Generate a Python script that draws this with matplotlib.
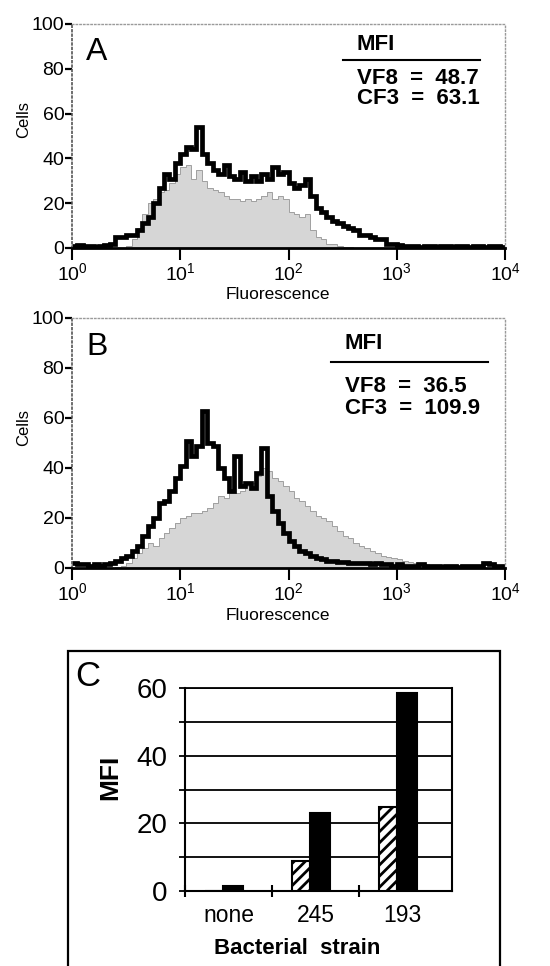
import numpy as np
import matplotlib
matplotlib.use("Agg")
import matplotlib.pyplot as plt
from matplotlib.patches import Rectangle
from matplotlib.lines import Line2D
from matplotlib.ticker import NullLocator, FixedLocator

plt.rcParams['font.family'] = ['Liberation Sans', 'DejaVu Sans']
plt.rcParams['mathtext.fontset'] = 'custom'
plt.rcParams['mathtext.rm'] = 'Liberation Sans'
plt.rcParams['mathtext.it'] = 'Liberation Sans:italic'
plt.rcParams['mathtext.bf'] = 'Liberation Sans:bold'
plt.rcParams['hatch.linewidth'] = 2.0

################################################################################
# Data
################################################################################
# histograms: counts per channel bin, 0.05 decade per bin from 10^0 to 10^4
BIN_DECADES = 0.05
A_VF8 = [1, 1.5, 1, 1, 0.5, 1, 1.5, 2, 5, 5,
         6, 6, 8, 11, 14, 20, 27, 33, 31, 38,
         42, 45, 44, 54, 42, 38, 35, 33, 37, 32,
         31, 34, 30, 32, 30, 33, 31, 36, 33, 34,
         29, 27, 28, 31, 23, 18, 16, 14, 12, 11,
         10, 9, 8, 6, 6, 5, 4, 4, 2, 2,
         1.5, 1, 1, 1, 0.5, 1, 1, 0.5, 1, 1,
         0.5, 1, 1, 0.5, 1, 1, 0.5, 1, 1, 0.5]
A_CF3 = [0, 0, 0, 0, 0, 0, 0, 0, 0, 0,
         1, 4, 9, 15, 20, 22, 25, 26, 29, 33,
         36, 37, 31, 35, 30, 27, 26, 25, 23, 22,
         22, 21, 22, 21, 22, 23, 25, 22, 23, 22,
         16, 15, 14, 15, 8, 5, 4, 2, 2, 1,
         0.5, 0.5, 0, 0, 0, 0, 0, 0, 0, 0,
         0, 0, 0, 0, 0, 0, 0, 0, 0, 0,
         0, 0, 0, 0, 0, 0, 0, 0, 0, 0]
B_VF8 = [2, 1.5, 1.5, 1, 1.5, 1, 1.5, 2, 3, 4,
         5, 7, 9, 13, 17, 20, 26, 27, 31, 36,
         41, 51, 45, 49, 63, 50, 49, 40, 36, 31,
         45, 33, 34, 32, 38, 48, 29, 23, 18, 14,
         11, 9, 7, 6, 5, 4, 3.5, 3, 3, 2.5,
         2.5, 2, 2, 2, 2, 1.5, 2, 1.5, 1.5, 1,
         1.5, 1, 1, 1, 1.5, 1, 1, 1, 0.5, 1,
         1, 0.5, 1, 1, 1, 1, 2, 1.5, 1, 1]
B_CF3 = [0, 0, 0, 0, 0, 0, 0, 0, 0.5, 1,
         2, 4, 6, 8, 10, 9, 12, 14, 16, 18,
         20, 21, 22, 22, 23, 24, 26, 29, 28, 30,
         30, 31, 33, 34, 37, 40, 39, 36, 35, 33,
         31, 28, 27, 25, 23, 21, 20, 19, 17, 15,
         13, 12, 10, 9, 8, 7, 6, 5, 4.5, 4,
         3.5, 3, 2.5, 2, 1.5, 1.5, 1, 1, 0.5, 0.5,
         0.5, 0, 0, 0, 0, 0, 0, 0, 0, 0]
A_MFI = ['VF8  =  48.7', 'CF3  =  63.1']
B_MFI = ['VF8  =  36.5', 'CF3  =  109.9']

# panel C
STRAINS = ['none', '245', '193']
MFI_HATCHED = [0, 8.9, 24.8]
MFI_SOLID = [1.5, 23.2, 58.5]

################################################################################
# Helpers
################################################################################
W, H = 550.0, 966.0
def fx(px):
    return px / W
def fy(py):
    return 1 - py / H

EDGES = 10 ** (np.arange(len(A_VF8) + 1) * BIN_DECADES)

fig = plt.figure(figsize=(5.5, 9.66), dpi=100)

def hist_panel(top, bottom, black, gray, letter, mfi_lines, txt):
    ax = fig.add_axes([fx(72), fy(bottom), fx(505) - fx(72), (bottom - top) / H])
    ax.stairs(gray, EDGES, fill=True, facecolor='#d6d6d6', edgecolor='none')
    ax.stairs(gray, EDGES, color='#a0a0a0', lw=0.7, baseline=None)
    ax.stairs(black, EDGES, color='black', lw=3.4, baseline=None)
    ax.set_xscale('log')
    ax.set_xlim(1, 1e4)
    ax.set_ylim(0, 100)
    ax.set_yticks([0, 20, 40, 60, 80, 100])
    ax.xaxis.set_major_locator(FixedLocator([1, 10, 100, 1000, 10000]))
    ax.xaxis.set_minor_locator(NullLocator())
    ax.tick_params(axis='y', labelsize=14, length=5, width=1.6, pad=0.5)
    ax.tick_params(axis='x', labelsize=14, length=8.5, width=1.5, pad=1.5)
    for s in ['top', 'right']:
        ax.spines[s].set_color('#9a9a9a')
        ax.spines[s].set_linestyle(':')
        ax.spines[s].set_linewidth(1.0)
    ax.spines['left'].set_color('#555555')
    ax.spines['left'].set_linestyle(':')
    ax.spines['left'].set_linewidth(1.2)
    ax.spines['bottom'].set_linewidth(2.0)
    # labels
    fig.text(fx(24), fy(txt['cells']), 'Cells', rotation=90, fontsize=12,
             ha='center', va='center')
    fig.text(fx(278), fy(txt['fluor']), 'Fluorescence', fontsize=12.5,
             ha='center', va='center')
    fig.text(fx(97), fy(txt['letter']), letter, fontsize=23,
             ha='center', va='center')
    fig.text(fx(txt['x']), fy(txt['mfi']), 'MFI', fontsize=16,
             fontweight='bold', ha='left', va='center')
    fig.add_artist(Line2D([fx(txt['x'] - 14), fx(txt['lx'])],
                          [fy(txt['line']), fy(txt['line'])],
                          color='black', lw=1.5))
    for s, yy in zip(mfi_lines, txt['rows']):
        fig.text(fx(txt['x']), fy(yy), s, fontsize=16, fontweight='bold',
                 ha='left', va='center')
    return ax

hist_panel(24, 248, A_VF8, A_CF3, 'A', A_MFI,
           {'cells': 120, 'fluor': 295, 'letter': 52, 'x': 357,
            'mfi': 45, 'line': 60, 'lx': 480, 'rows': [78, 99]})
hist_panel(318, 568, B_VF8, B_CF3, 'B', B_MFI,
           {'cells': 428, 'fluor': 616, 'letter': 347, 'x': 345,
            'mfi': 344, 'line': 362, 'lx': 488, 'rows': [387, 408]})

################################################################################
# Panel C
################################################################################
fig.add_artist(Rectangle((fx(68), -0.02), fx(500) - fx(68), fy(651) + 0.02,
                         transform=fig.transFigure, fill=False,
                         lw=1.6, ec='black'))

axc = fig.add_axes([fx(185), fy(891), fx(452) - fx(185), (891 - 688) / H])
x = np.arange(len(STRAINS))
axc.bar(x - 0.27, MFI_HATCHED, width=0.21, align='edge', facecolor='white',
        edgecolor='black', hatch='///', lw=1.5, zorder=3)
axc.bar(x - 0.06, MFI_SOLID, width=0.23, align='edge', facecolor='black',
        edgecolor='black', lw=1.5, zorder=3)
axc.set_xlim(-0.5, 2.57)
axc.set_ylim(0, 60)
axc.set_axisbelow(True)
axc.set_yticks([0, 20, 40, 60])
axc.set_yticks([10, 30, 50], minor=True)
axc.yaxis.grid(True, which='both', color='black', lw=1.3)
axc.tick_params(axis='y', which='both', labelsize=20, length=4.5, width=1.3,
                pad=8)
axc.set_xticks([-0.5, 0.5, 1.5])
axc.set_xticklabels([])
axc.set_xticks(x, minor=True)
axc.set_xticklabels(STRAINS, minor=True)
axc.tick_params(axis='x', which='major', direction='inout', length=8, width=1.5)
axc.tick_params(axis='x', which='minor', length=0, labelsize=16.5, pad=9)
for s in ['left', 'bottom', 'right']:
    axc.spines[s].set_linewidth(1.5)
axc.spines['top'].set_linewidth(1.3)

fig.text(fx(88), fy(677), 'C', fontsize=25, ha='center', va='center')
fig.text(fx(110), fy(777), 'MFI', fontsize=19, fontweight='bold',
         rotation=90, ha='center', va='center')
fig.text(fx(297), fy(949), 'Bacterial  strain', fontsize=16,
         fontweight='bold', ha='center', va='center')

fig.savefig('out.png', dpi=100)
plt.close(fig)
